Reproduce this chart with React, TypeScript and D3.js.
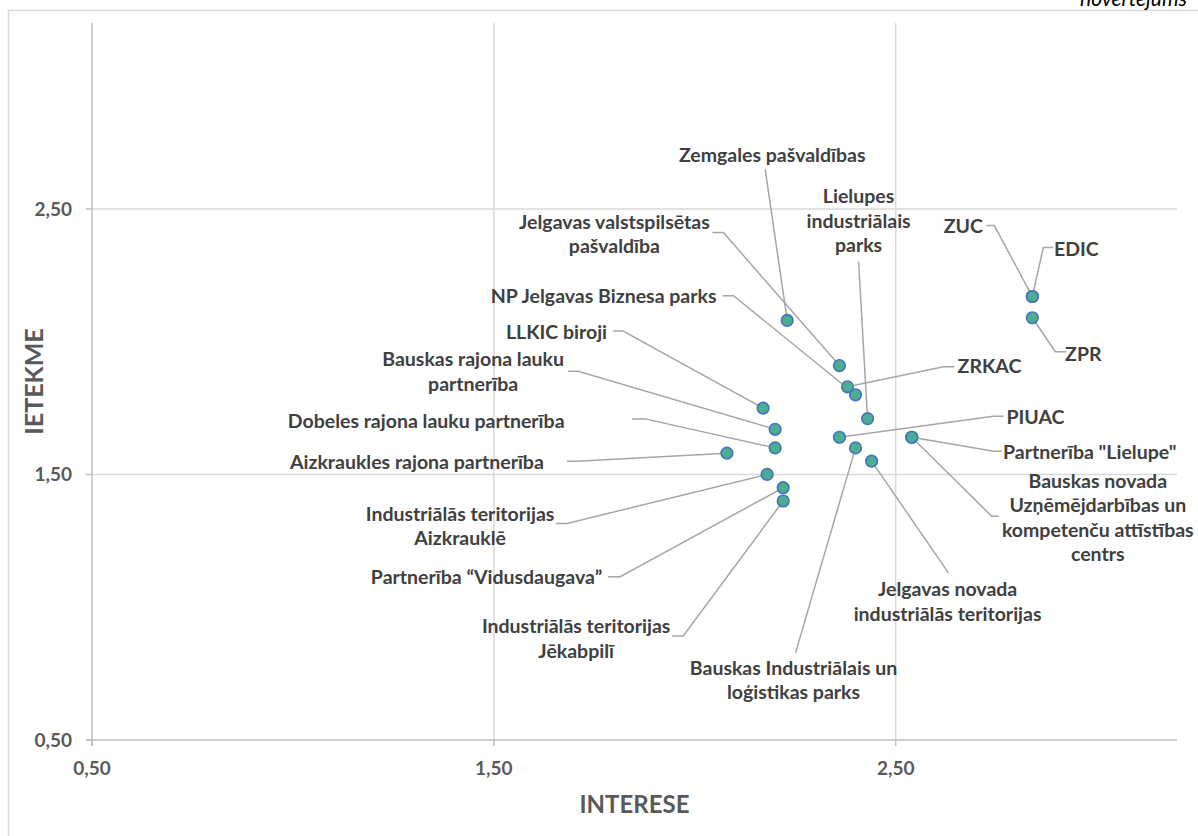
import * as d3 from 'd3'

// Stakeholders: interest (x) vs influence (y)
const names = [
  'Zemgales pašvaldības',
  'Jelgavas valstspilsētas pašvaldība',
  'NP Jelgavas Biznesa parks',
  'ZRKAC',
  'Lielupes industriālais parks',
  'LLKIC biroji',
  'Bauskas rajona lauku partnerība',
  'Dobeles rajona lauku partnerība',
  'Aizkraukles rajona partnerība',
  'Industriālās teritorijas Aizkrauklē',
  'Partnerība “Vidusdaugava”',
  'Industriālās teritorijas Jēkabpilī',
  'PIUAC',
  'Bauskas Industriālais un loģistikas parks',
  'Jelgavas novada industriālās teritorijas',
  'Partnerība "Lielupe"',
  'Bauskas novada Uzņēmējdarbības un kompetenču attīstības centrs',
  'ZUC',
  'EDIC',
  'ZPR',
]
const interest = [2.23, 2.36, 2.4, 2.38, 2.43, 2.17, 2.2, 2.2, 2.08, 2.18, 2.22, 2.22, 2.36, 2.4, 2.44, 2.54, 2.54, 2.84, 2.84, 2.84]
const influence = [2.08, 1.91, 1.8, 1.83, 1.71, 1.75, 1.67, 1.6, 1.58, 1.5, 1.45, 1.4, 1.64, 1.6, 1.55, 1.64, 1.64, 2.17, 2.17, 2.09]

const xTicks = [0.5, 1.5, 2.5]
const yTicks = [0.5, 1.5, 2.5]

// label layout: wrapped lines, text offset from point, leader end + elbow offsets (px)
type Layout = { lines: string[]; dx: number; dy: number; end: [number, number]; elbow?: [number, number]; flush?: boolean }
const layout: Layout[] = [
  { lines: ['Zemgales pašvaldības'], dx: -15, dy: -165, end: [-22, -151] },
  { lines: ['Jelgavas valstspilsētas', 'pašvaldība'], dx: -225, dy: -131.5, end: [-127, -133], elbow: [-116, -133] },
  { lines: ['NP Jelgavas Biznesa parks'], dx: -246, dy: -99, end: [-133, -99], elbow: [-122, -99], flush: true },
  { lines: ['ZRKAC'], dx: 142, dy: -21, end: [107, -20], elbow: [96, -20] },
  { lines: ['Lielupes', 'industriālais', 'parks'], dx: -9, dy: -198, end: [-9, -157] },
  { lines: ['LLKIC biroji'], dx: -199, dy: -76, end: [-150, -77], elbow: [-140, -77], flush: true },
  { lines: ['Bauskas rajona lauku', 'partnerība'], dx: -302, dy: -57.5, end: [-207, -58], elbow: [-197, -58] },
  { lines: ['Dobeles rajona lauku partnerība'], dx: -349, dy: -27, end: [-143, -29], elbow: [-130, -29] },
  { lines: ['Aizkraukles rajona partnerība'], dx: -310, dy: 9, end: [-160, 8], elbow: [-150, 8] },
  { lines: ['Industriālās teritorijas', 'Aizkrauklē'], dx: -307, dy: 51.5, end: [-211, 49], elbow: [-200, 49] },
  { lines: ['Partnerība “Vidusdaugava”'], dx: -293, dy: 89, end: [-175, 89], elbow: [-163, 89], flush: true },
  { lines: ['Industriālās teritorijas', 'Jēkabpilī'], dx: -207, dy: 137.5, end: [-111, 135], elbow: [-100, 135] },
  { lines: ['PIUAC'], dx: 196, dy: -20, end: [164, -21], elbow: [154, -21] },
  { lines: ['Bauskas Industriālais un', 'loģistikas parks'], dx: -62, dy: 232.5, end: [-60, 205] },
  { lines: ['Jelgavas novada', 'industriālās teritorijas'], dx: 76, dy: 140.5, end: [77, 112] },
  { lines: ['Partnerība "Lielupe"'], dx: 178, dy: 15, end: [90, 14], elbow: [82, 14] },
  { lines: ['Bauskas novada', 'Uzņēmējdarbības un', 'kompetenču attīstības', 'centrs'], dx: 186, dy: 80.5, end: [87, 79], elbow: [80, 79] },
  { lines: ['ZUC'], dx: -69, dy: -70, end: [-46, -71], elbow: [-38, -71] },
  { lines: ['EDIC'], dx: 44, dy: -47, end: [21, -49], elbow: [11, -49] },
  { lines: ['ZPR'], dx: 51, dy: 36, end: [34, 34], elbow: [23, 34] },
]

const W = 1198
const H = 836
const plot = { left: 92, right: 1177, top: 23, bottom: 740 }
const font = 'Lato, "Open Sans", sans-serif'
const lineH = 24.5
const gap = 6

const fmt = (v: number) => v.toFixed(2).replace('.', ',')

export default function App() {
  const x = d3.scaleLinear().domain([0.5, 3.2]).range([plot.left, plot.right])
  const y = d3.scaleLinear().domain([0.5, 3.2]).range([plot.bottom, plot.top])
  const line = d3.line()

  const pts = names.map((n, i) => ({ name: n, px: x(interest[i]), py: y(influence[i]), lay: layout[i] }))

  return (
    <div style={{ position: 'absolute', left: 0, top: 0 }}>
      <svg width={W} height={H} viewBox={`0 0 ${W} ${H}`} style={{ display: 'block', fontFamily: font }}>
        <rect width={W} height={H} fill="#fff" />
        <rect x={8.5} y={10.5} width={W} height={H} fill="none" stroke="#D9D9D9" strokeWidth={1.5} />
        <text x={1080} y={6} fontSize={21} fontStyle="italic" fill="#000">
          novērtējums
        </text>

        {/* grid */}
        {xTicks.slice(1).map((t) => (
          <line key={'gx' + t} x1={x(t)} x2={x(t)} y1={plot.top} y2={plot.bottom} stroke="#D9D9D9" strokeWidth={1.5} />
        ))}
        {yTicks.slice(1).map((t) => (
          <line key={'gy' + t} x1={plot.left} x2={plot.right} y1={y(t)} y2={y(t)} stroke="#D9D9D9" strokeWidth={1.5} />
        ))}
        {/* axes */}
        <line x1={plot.left} x2={plot.left} y1={plot.top} y2={plot.bottom + 6} stroke="#BFBFBF" strokeWidth={1.5} />
        <line x1={plot.left - 6} x2={plot.right} y1={plot.bottom} y2={plot.bottom} stroke="#BFBFBF" strokeWidth={1.5} />
        {yTicks.map((t) => (
          <g key={'ty' + t}>
            <line x1={plot.left - 6} x2={plot.left} y1={y(t)} y2={y(t)} stroke="#BFBFBF" strokeWidth={1.5} />
            <text x={72} y={y(t)} dy="0.35em" textAnchor="end" fontSize={19} fontWeight={700} fill="#595959">
              {fmt(t)}
            </text>
          </g>
        ))}
        {xTicks.map((t) => (
          <g key={'tx' + t}>
            <line x1={x(t)} x2={x(t)} y1={plot.bottom} y2={plot.bottom + 6} stroke="#BFBFBF" strokeWidth={1.5} />
            <text x={x(t)} y={775} textAnchor="middle" fontSize={19} fontWeight={700} fill="#595959">
              {fmt(t)}
            </text>
          </g>
        ))}

        <text x={(plot.left + plot.right) / 2} y={813} textAnchor="middle" fontSize={24} fontWeight={700} fill="#595959">
          INTERESE
        </text>
        <text
          transform={`translate(43,${(plot.top + plot.bottom) / 2}) rotate(-90)`}
          textAnchor="middle"
          fontSize={25}
          fontWeight={700}
          fill="#595959"
        >
          IETEKME
        </text>

        {/* leader lines */}
        {pts.map((p, i) => {
          const L = p.lay
          const coords: [number, number][] = [[p.px, p.py]]
          if (L.elbow) coords.push([p.px + L.elbow[0], p.py + L.elbow[1]])
          coords.push([p.px + L.end[0], p.py + L.end[1]])
          return <path key={'l' + i} d={line(coords) ?? ''} fill="none" stroke="#A6A6A6" strokeWidth={1.5} />
        })}

        {/* points */}
        {pts.map((p, i) => (
          <circle key={'c' + i} cx={p.px} cy={p.py} r={5.8} fill="#4BAE8E" stroke="#4472C4" strokeWidth={1.6} />
        ))}

        {/* labels */}
        {pts.map((p, i) => {
          const L = p.lay
          let cx = p.px + L.dx
          let anchor = 'middle'
          // a few labels sit flush against their leader
          if (L.flush) {
            anchor = 'end'
            cx = p.px + L.end[0] - gap
          }
          const top = p.py + L.dy - ((L.lines.length - 1) * lineH) / 2
          return (
            <text key={'t' + i} textAnchor={anchor} fontSize={19.5} fontWeight={700} fill="#404040">
              {L.lines.map((s, j) => (
                <tspan key={j} x={cx} y={top + j * lineH} dy="0.35em">
                  {s}
                </tspan>
              ))}
            </text>
          )
        })}
      </svg>
    </div>
  )
}
